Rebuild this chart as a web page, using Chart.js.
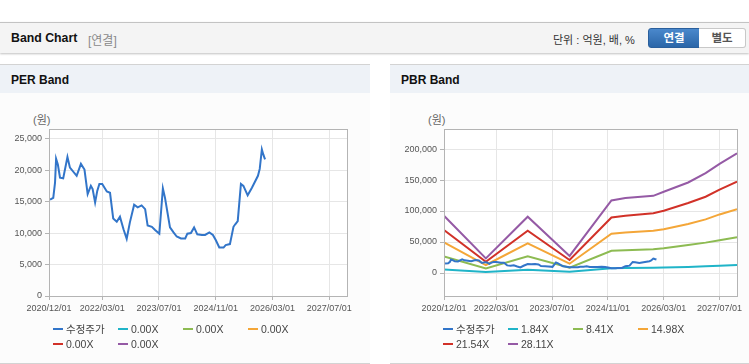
<!DOCTYPE html>
<html>
<head>
<meta charset="utf-8">
<script src="https://cdn.jsdelivr.net/npm/chart.js@4.4.1/dist/chart.umd.min.js"></script>
<style>
    body { margin: 0; width: 749px; height: 364px; position: relative; overflow: hidden; background: #fff;
        font-family: "Liberation Sans", "Noto Sans CJK KR", sans-serif; }
    .topbar { position: absolute; left: 0; top: 22px; width: 749px; height: 30px; background: #f4f4f4;
        border-top: 1px solid #c3c3c3; box-shadow: 0 1px 2px rgba(0,0,0,.25); }
    .topbar .ttl { position: absolute; left: 11px; top: 8px; font-size: 12.3px; font-weight: bold; color: #111; }
    .topbar .sub { position: absolute; left: 88px; top: 8px; font-size: 12px; color: #8a8a8a; }
    .topbar .unit { position: absolute; left: 553px; top: 8px; font-size: 11px; color: #333; }
    .btn { position: absolute; top: 5px; height: 18px; line-height: 18px; text-align: center; font-size: 11.5px; font-weight: bold; }
    .btn.on { left: 648px; width: 50px; background: linear-gradient(#4a88cc, #2b66a8); color: #fff;
        border: 1px solid #2a5f9c; border-radius: 3px 0 0 3px; }
    .btn.off { left: 699px; width: 46px; background: #fff; color: #555; border: 1px solid #c8c8c8; border-left: none;
        border-radius: 0 3px 3px 0; }
    .panel { position: absolute; top: 64px; height: 298px; background: #fcfcfc;
        border-top: 1px solid #d3d3d3; border-bottom: 1px solid #d3d3d3; }
    .panel .hd { height: 28px; background: #eef2f7; }
    .panel .hd span { position: absolute; left: 11px; top: 8px; font-size: 12px; font-weight: bold; color: #111; }
    .panel .unitlbl { position: absolute; top: 46px; font-size: 11px; color: #666; }
    .panel canvas { position: absolute; top: 36px; }
    .legend { position: absolute; left: 53px; top: 257px; width: 270px; font-size: 10.5px; color: #444; line-height: 15px; }
    .lg { display: inline-block; width: 65px; white-space: nowrap; }
    .lg i { display: inline-block; width: 10px; height: 2px; vertical-align: middle; margin-right: 3px; position: relative; top: -1px; }
</style>
</head>
<body>
<div class="topbar">
    <span class="ttl">Band Chart</span><span class="sub">[연결]</span>
    <span class="unit">단위 : 억원, 배, %</span>
    <span class="btn on">연결</span><span class="btn off">별도</span>
</div>

<div class="panel" id="perPanel" style="left:0;width:370px">
    <div class="hd"><span>PER Band</span></div>
    <span class="unitlbl" style="left:33px">(원)</span>
    <canvas id="perChart" width="370" height="222" style="left:0"></canvas>
    <div class="legend" id="perLegend"></div>
</div>

<div class="panel" id="pbrPanel" style="left:390px;width:359px">
    <div class="hd"><span>PBR Band</span></div>
    <span class="unitlbl" style="left:38px">(원)</span>
    <canvas id="pbrChart" width="359" height="222" style="left:0"></canvas>
    <div class="legend" id="pbrLegend"></div>
</div>

<script>
// x축은 2020/12/01 부터의 개월 수
const xTickMonths = [0, 15, 31, 47, 63, 79];
const xTickLabels = ['2020/12/01', '2022/03/01', '2023/07/01', '2024/11/01', '2026/03/01', '2027/07/01'];

const perTicks = [0, 5000, 10000, 15000, 20000, 25000];
const pbrTicks = [0, 50000, 100000, 150000, 200000];

// 수정주가
const priceMonths = [0.3, 1.2, 1.7, 2.0, 2.5, 3.1, 4.0, 5.2, 5.9, 7.8, 9.0, 10.0, 10.9, 11.8, 12.3, 13.0, 13.6, 14.2,
    15.0, 16.3, 17.2, 18.1, 19.1, 20.0, 21.0, 21.9, 22.8, 24.0, 25.0, 26.1, 27.1, 27.8, 29.0, 29.9, 31.1, 32.1, 32.7,
    34.1, 35.1, 36.0, 37.2, 38.4, 39.0, 40.0, 40.9, 41.8, 43.1, 44.0, 45.2, 46.2, 47.0, 48.0, 49.2, 49.8, 51.0, 52.0,
    52.5, 53.2, 54.1, 54.8, 56.0, 57.2, 58.9, 59.4, 60.0, 60.4, 60.9];
const priceValues = [15300, 15600, 18000, 21800, 20900, 18800, 18700, 22100, 20400, 19100, 21000, 20100, 16200, 17500,
    17000, 14850, 16700, 17800, 17800, 16600, 16400, 12300, 11800, 12600, 10600, 9100, 11700, 14500, 14100, 14400,
    13800, 11200, 11000, 10500, 9900, 17100, 15600, 10900, 10100, 9450, 9150, 9150, 9900, 10000, 10900, 9800, 9700,
    9700, 10100, 9700, 8900, 7700, 7700, 8100, 8250, 11000, 11400, 11900, 17800, 17500, 16000, 17200, 19100, 20200,
    23300, 22500, 21700];

// PBR 밴드
const bandMonths = [0, 12, 24, 36, 48, 52, 60, 63, 70, 75, 79, 84];
const band184 = [5800, 1800, 5300, 1900, 7600, 8000, 8500, 8800, 9800, 10800, 11800, 13000];
const band841 = [26800, 7400, 26800, 8600, 35800, 36800, 38500, 40000, 45000, 49000, 53000, 57500];
const band1498 = [49400, 12900, 47800, 15000, 63500, 65500, 68000, 70500, 79000, 86500, 94500, 103000];
const band2154 = [69400, 18200, 68200, 21000, 89500, 92500, 96500, 100500, 113000, 123000, 134500, 147500];
const band2811 = [92400, 23500, 90800, 27500, 117000, 121000, 124500, 131000, 146000, 161000, 176000, 193000];

const colors = ['#3275c9', '#20b4c8', '#8dbb52', '#f4a638', '#d13128', '#955aa5'];

const toXY = (xs, ys) => xs.map((x, i) => ({ x: x, y: ys[i] }));

const plotBox = {
    id: 'plotBox',
    beforeDatasetsDraw(chart) {},
    beforeDraw(chart) {
        const a = chart.chartArea, ctx = chart.ctx;
        ctx.save();
        ctx.fillStyle = '#fff';
        ctx.fillRect(a.left, a.top, a.right - a.left, a.bottom - a.top);
        ctx.restore();
    },
    afterDraw(chart) {
        const a = chart.chartArea, ctx = chart.ctx;
        ctx.save();
        ctx.strokeStyle = '#b4b4b4';
        ctx.lineWidth = 1;
        ctx.strokeRect(Math.round(a.left) + 0.5, Math.round(a.top) + 0.5,
            Math.round(a.right - a.left), Math.round(a.bottom - a.top));
        ctx.restore();
    }
};

function makeChart(id, datasets, yTicks, yMin, yMax, yWidth, padRight) {
    return new Chart(document.getElementById(id), {
        type: 'line',
        data: { datasets: datasets },
        options: {
            responsive: false,
            animation: false,
            devicePixelRatio: 1,
            layout: { padding: { top: 28, right: padRight, left: 0, bottom: 0 } },
            elements: { point: { radius: 0 }, line: { borderWidth: 2, tension: 0 } },
            plugins: { legend: { display: false }, tooltip: { enabled: false } },
            scales: {
                x: {
                    type: 'linear', min: 0, max: 84,
                    afterBuildTicks: s => { s.ticks = xTickMonths.map(v => ({ value: v })); },
                    afterFit: s => { s.height = 27; },
                    grid: { color: '#e6e6e6', tickLength: 4, tickColor: '#b4b4b4' },
                    border: { color: '#b4b4b4' },
                    ticks: {
                        autoSkip: false, maxRotation: 0, padding: 3, color: '#555',
                        font: { family: 'Liberation Sans', size: 9 },
                        callback: v => xTickLabels[xTickMonths.indexOf(v)]
                    }
                },
                y: {
                    min: yMin, max: yMax,
                    afterBuildTicks: s => { s.ticks = yTicks.map(v => ({ value: v })); },
                    afterFit: s => { s.width = yWidth; },
                    grid: { color: '#e6e6e6', tickLength: 4, tickColor: '#b4b4b4' },
                    border: { color: '#b4b4b4' },
                    ticks: {
                        padding: 3, color: '#555',
                        font: { family: 'Liberation Sans', size: 9 },
                        callback: v => v.toLocaleString('en-US')
                    }
                }
            }
        },
        plugins: [plotBox]
    });
}

function buildLegend(chart, el) {
    chart.data.datasets.forEach(ds => {
        const item = document.createElement('span');
        item.className = 'lg';
        item.innerHTML = '<i style="background:' + ds.borderColor + '"></i>' + ds.label;
        el.appendChild(item);
    });
}

const perChart = makeChart('perChart', [
    { label: '수정주가', data: toXY(priceMonths, priceValues), borderColor: colors[0] },
    { label: '0.00X', data: [], borderColor: colors[1] },
    { label: '0.00X', data: [], borderColor: colors[2] },
    { label: '0.00X', data: [], borderColor: colors[3] },
    { label: '0.00X', data: [], borderColor: colors[4] },
    { label: '0.00X', data: [], borderColor: colors[5] }
], perTicks, 0, 26540, 49, 23);
buildLegend(perChart, document.getElementById('perLegend'));

const pbrChart = makeChart('pbrChart', [
    { label: '수정주가', data: toXY(priceMonths, priceValues), borderColor: colors[0] },
    { label: '1.84X', data: toXY(bandMonths, band184), borderColor: colors[1] },
    { label: '8.41X', data: toXY(bandMonths, band841), borderColor: colors[2] },
    { label: '14.98X', data: toXY(bandMonths, band1498), borderColor: colors[3] },
    { label: '21.54X', data: toXY(bandMonths, band2154), borderColor: colors[4] },
    { label: '28.11X', data: toXY(bandMonths, band2811), borderColor: colors[5] }
], pbrTicks, -37100, 232300, 54, 12);
buildLegend(pbrChart, document.getElementById('pbrLegend'));
</script>
</body>
</html>
